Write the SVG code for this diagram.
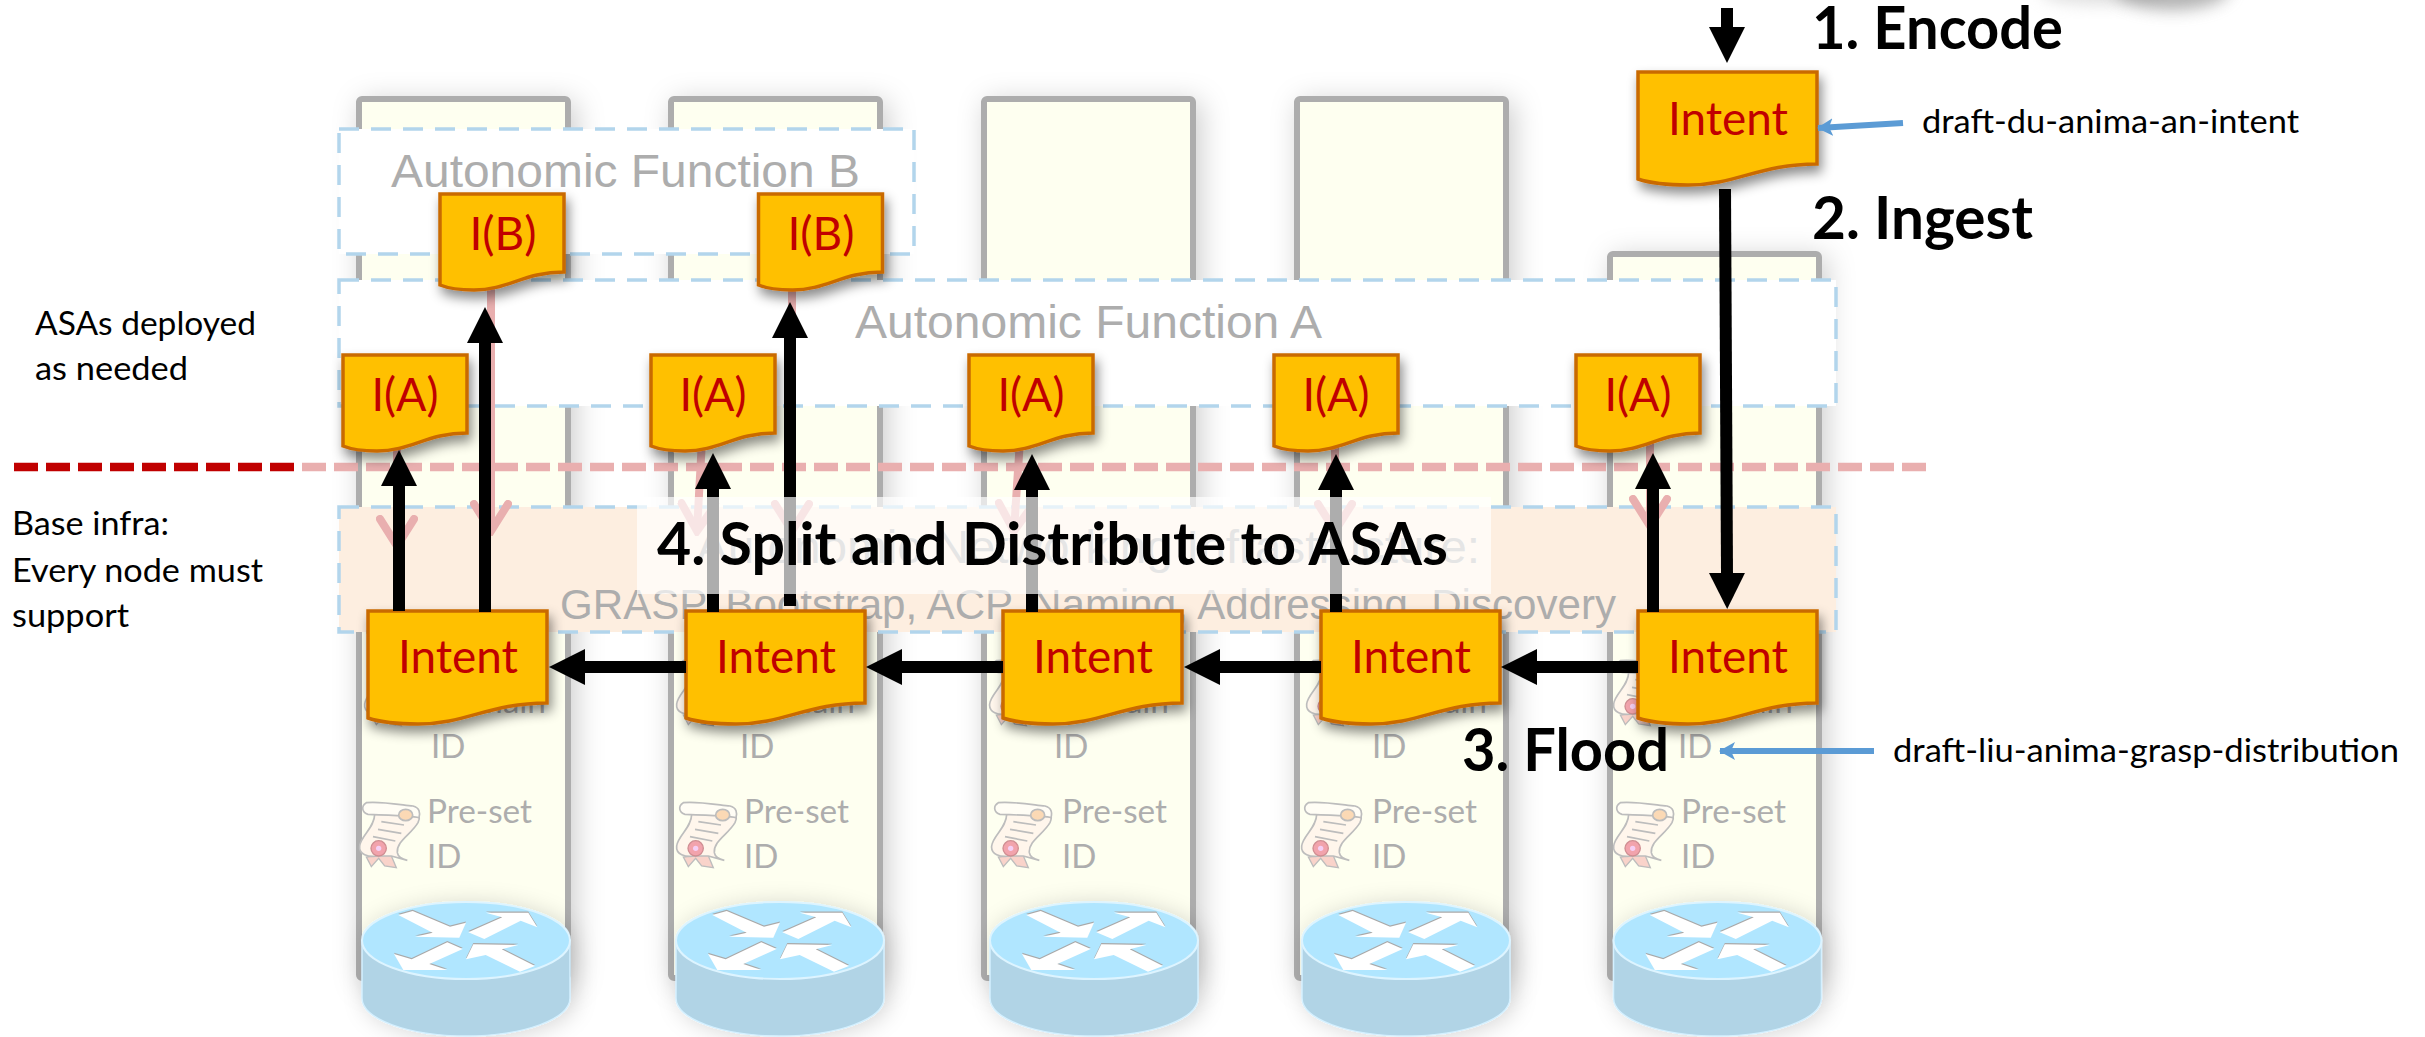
<svg xmlns="http://www.w3.org/2000/svg" xmlns:xlink="http://www.w3.org/1999/xlink" width="2425" height="1037" viewBox="0 0 2425 1037">
<style>
text{font-family:"Lato","Noto Sans",sans-serif}
.frame{fill:#FEFFF0;stroke:#ADADAD;stroke-width:6;filter:url(#fs)}
.box{stroke:#B2D5EC;stroke-width:3.5;stroke-dasharray:20 12}
.white{fill:#fff}
.peach{fill:#FDEEE0}
.ar{font-family:"Liberation Sans",Arial,sans-serif;fill:#ADADAD}
.fade{fill:#ADADAD;font-size:33px}
.doc{fill:#FFC000;stroke:#C96A00;stroke-width:3.5;filter:url(#ds)}
.dt{fill:#C00000;font-size:47px;text-anchor:middle}
.blk{fill:#000;font-size:32px}
.hd{fill:#000;font-size:60px;font-weight:700}
.bl{stroke:#000;stroke-width:12;fill:none;marker-end:url(#ah)}
.pk{stroke:#E9AFAF;stroke-width:8;fill:none;marker-end:url(#ph)}
.cyl{fill:#B1D4E6;stroke:#D4F0FF;stroke-width:1.5}
.top{fill:#B0E6FF;stroke:#DDF4FF;stroke-width:2}
</style>
<defs>
<filter id="fs" x="-30%" y="-10%" width="170%" height="125%"><feDropShadow dx="5" dy="5" stdDeviation="14" flood-color="#000" flood-opacity=".2"/></filter>
<filter id="ds" x="-30%" y="-30%" width="170%" height="170%"><feDropShadow dx="3" dy="7" stdDeviation="6" flood-color="#000" flood-opacity=".45"/></filter>
<filter id="rs" x="-30%" y="-30%" width="170%" height="170%"><feDropShadow dx="4" dy="2" stdDeviation="11" flood-color="#000" flood-opacity=".16"/></filter>
<filter id="bl" x="-30%" y="-60%" width="160%" height="220%"><feGaussianBlur stdDeviation="8"/></filter>
<marker id="ah" viewBox="0 0 36 36" refX="1" refY="18" markerWidth="36" markerHeight="36" markerUnits="userSpaceOnUse" orient="auto"><path d="M0,0 L36,18 L0,36 Z" fill="#000"/></marker>
<marker id="ph" viewBox="0 0 36 42" refX="31" refY="21" markerWidth="36" markerHeight="42" markerUnits="userSpaceOnUse" orient="auto"><path d="M4,4 L31,21 L4,38" fill="none" stroke="#E9AFAF" stroke-width="8" stroke-linecap="round"/></marker>
<marker id="bh" viewBox="0 0 16 18" refX="15" refY="9" markerWidth="16" markerHeight="18" markerUnits="userSpaceOnUse" orient="auto"><path d="M0,0 L16,9 L0,18 L4,9 Z" fill="#5B9BD5"/></marker>
<path id="d-big" d="M0,0 H179 V92 C122,92 98,113 50,113 C30,113 15,112 0,107 Z"/>
<path id="d-sm" d="M0,0 H124 V78 C84,78 68,96 34,96 C20,96 10,95 0,91 Z"/>
<g id="scroll" transform="scale(.3333)">
<path d="M50,165 L25,168 L40,197 L62,172 L80,195 L115,200 L98,160 Z" fill="#F9D3CA" stroke="#BDBDBD" stroke-width="4"/>
<path d="M50,40 L165,25 C185,30 187,50 180,65 C160,100 115,120 118,155 C120,168 135,175 148,178 L100,165 L60,165 C30,170 2,160 5,135 C8,105 50,80 50,40 Z" fill="#FFF6EC" stroke="#BDBDBD" stroke-width="5"/>
<path d="M30,40 C12,35 8,15 25,5 C60,0 120,10 165,15 C185,20 187,35 183,50 C170,45 90,42 30,40 Z" fill="#FFFDF5" stroke="#BDBDBD" stroke-width="5"/>
<ellipse cx="143" cy="42" rx="21" ry="17" fill="#FBD9B5" stroke="#BDBDBD" stroke-width="5"/>
<path d="M70,62 L138,72 M60,85 L130,97 M45,107 L112,120" stroke="#BDBDBD" stroke-width="5" fill="none"/>
<circle cx="62" cy="142" r="23" fill="#F2A3AC" stroke="#CF8E92" stroke-width="4"/>
<circle cx="62" cy="142" r="8" fill="#F5CFF4"/>
</g>
<g id="router">
<path class="cyl" d="M362,940 V998 C362,1019 408,1036 466,1036 C524,1036 570,1019 570,998 V940 Z"/>
<ellipse class="top" cx="466" cy="940.5" rx="104" ry="38.5"/>
<path fill="#A9A9A9" transform="translate(0,-1.2)" d="M398.3,915 L412.7,911 L450,926.7 L466,922.7 L459.3,937.7 L415,936.7 L432.7,932.7 Z M468.3,932.3 L502.3,917.3 L485.7,912.7 L528.3,912.7 L537.3,927.3 L520.7,920.7 L484.3,939 Z M462.7,949 L429.3,964 L447.3,970 L403.3,970 L394,954 L411.7,959.3 L447.3,942.3 Z M466,959.3 L473.3,944.3 L518.3,945 L501.7,949.3 L535,966 L520,971.7 L485.7,955 Z"/>
<path fill="#fff" d="M398.3,915 L412.7,911 L450,926.7 L466,922.7 L459.3,937.7 L415,936.7 L432.7,932.7 Z M468.3,932.3 L502.3,917.3 L485.7,912.7 L528.3,912.7 L537.3,927.3 L520.7,920.7 L484.3,939 Z M462.7,949 L429.3,964 L447.3,970 L403.3,970 L394,954 L411.7,959.3 L447.3,942.3 Z M466,959.3 L473.3,944.3 L518.3,945 L501.7,949.3 L535,966 L520,971.7 L485.7,955 Z"/>
</g>
</defs>
<rect width="2425" height="1037" fill="#fff"/>
<ellipse cx="2100" cy="-8" rx="60" ry="12" fill="#bbb" opacity=".5" filter="url(#bl)"/>
<ellipse cx="2172" cy="-12" rx="58" ry="22" fill="#888" opacity=".65" filter="url(#bl)"/>

<g id="column-1">
<rect class="frame" x="359" y="99" width="209" height="879" rx="3"/>
<text class="fade" x="431" y="713" textLength="115" lengthAdjust="spacingAndGlyphs">Domain</text><text class="fade" x="431" y="758">ID</text>
<text class="fade" x="427" y="823" textLength="105" lengthAdjust="spacingAndGlyphs">Pre-set</text><text class="fade" x="427" y="868">ID</text>
<use href="#scroll" transform="translate(363,659)"/><use href="#scroll" transform="translate(358,801)"/>
<use href="#router" style="filter:url(#rs)"/>
</g>
<g id="column-2">
<rect class="frame" x="671" y="99" width="209" height="879" rx="3"/>
<text class="fade" x="740" y="713" textLength="115" lengthAdjust="spacingAndGlyphs">Domain</text><text class="fade" x="740" y="758">ID</text>
<text class="fade" x="744" y="823" textLength="105" lengthAdjust="spacingAndGlyphs">Pre-set</text><text class="fade" x="744" y="868">ID</text>
<use href="#scroll" transform="translate(675,659)"/><use href="#scroll" transform="translate(675,801)"/>
<use href="#router" transform="translate(314,0)" style="filter:url(#rs)"/>
</g>
<g id="column-3">
<rect class="frame" x="984" y="99" width="209" height="879" rx="3"/>
<text class="fade" x="1054" y="713" textLength="115" lengthAdjust="spacingAndGlyphs">Domain</text><text class="fade" x="1054" y="758">ID</text>
<text class="fade" x="1062" y="823" textLength="105" lengthAdjust="spacingAndGlyphs">Pre-set</text><text class="fade" x="1062" y="868">ID</text>
<use href="#scroll" transform="translate(988,659)"/><use href="#scroll" transform="translate(990,801)"/>
<use href="#router" transform="translate(628,0)" style="filter:url(#rs)"/>
</g>
<g id="column-4">
<rect class="frame" x="1297" y="99" width="209" height="879" rx="3"/>
<text class="fade" x="1372" y="713" textLength="115" lengthAdjust="spacingAndGlyphs">Domain</text><text class="fade" x="1372" y="758">ID</text>
<text class="fade" x="1372" y="823" textLength="105" lengthAdjust="spacingAndGlyphs">Pre-set</text><text class="fade" x="1372" y="868">ID</text>
<use href="#scroll" transform="translate(1305,659)"/><use href="#scroll" transform="translate(1300,801)"/>
<use href="#router" transform="translate(940,0)" style="filter:url(#rs)"/>
</g>
<g id="column-5">
<rect class="frame" x="1610" y="254" width="209" height="724" rx="3"/>
<text class="fade" x="1678" y="713" textLength="115" lengthAdjust="spacingAndGlyphs">Domain</text><text class="fade" x="1678" y="758">ID</text>
<text class="fade" x="1681" y="823" textLength="105" lengthAdjust="spacingAndGlyphs">Pre-set</text><text class="fade" x="1681" y="868">ID</text>
<use href="#scroll" transform="translate(1612,659)"/><use href="#scroll" transform="translate(1612,801)"/>
<use href="#router" transform="translate(1251.5,0)" style="filter:url(#rs)"/>
</g>

<g id="function-b"><rect class="box white" x="339" y="129" width="575" height="125"/><text class="ar" x="391" y="187" font-size="46" textLength="469" lengthAdjust="spacingAndGlyphs">Autonomic Function B</text></g>
<g id="function-a"><rect class="box white" x="339" y="280" width="1497" height="126"/><text class="ar" x="855" y="338" font-size="46" textLength="467" lengthAdjust="spacingAndGlyphs">Autonomic Function A</text></g>
<g id="infrastructure"><rect class="box peach" x="339" y="507" width="1497" height="125"/>
<text class="ar" x="696" y="563" font-size="46" textLength="784" lengthAdjust="spacingAndGlyphs">Autonomic Networking Infrastructure:</text>
<text class="ar" x="560" y="619" font-size="42" textLength="1056" lengthAdjust="spacingAndGlyphs">GRASP, Bootstrap, ACP, Naming, Addressing, Discovery</text></g>

<g id="boundary">
<path d="M302,467 H1927" stroke="#E9AFAF" stroke-width="8.5" stroke-dasharray="24 8" fill="none"/>
<path d="M14,467 H294" stroke="#C00000" stroke-width="8.5" stroke-dasharray="24 8" fill="none"/>
</g>

<g id="faded-connectors">
<line class="pk" x1="397" y1="440" x2="397" y2="546"/>
<line class="pk" x1="491" y1="285" x2="491" y2="531"/>
<line class="pk" x1="702" y1="440" x2="697" y2="531"/>
<line class="pk" x1="792" y1="285" x2="792" y2="531"/>
<line class="pk" x1="1020" y1="440" x2="1014" y2="531"/>
<line class="pk" x1="1335" y1="440" x2="1335" y2="531"/>
<line class="pk" x1="1650" y1="440" x2="1650" y2="526"/>
</g>

<g id="intent-top"><use class="doc" href="#d-big" transform="translate(1638,72)"/><text class="dt" x="1728" y="135" textLength="120" lengthAdjust="spacingAndGlyphs">Intent</text></g>
<g id="ib-1"><use class="doc" href="#d-sm" transform="translate(440,194)"/><text class="dt" x="503" y="250" textLength="67" lengthAdjust="spacingAndGlyphs">I(B)</text></g>
<g id="ib-2"><use class="doc" href="#d-sm" transform="translate(758.5,194)"/><text class="dt" x="821" y="250" textLength="67" lengthAdjust="spacingAndGlyphs">I(B)</text></g>
<g id="ia-1"><use class="doc" href="#d-sm" transform="translate(343,355)"/><text class="dt" x="405" y="411" textLength="67" lengthAdjust="spacingAndGlyphs">I(A)</text></g>
<g id="ia-2"><use class="doc" href="#d-sm" transform="translate(651,355)"/><text class="dt" x="713" y="411" textLength="67" lengthAdjust="spacingAndGlyphs">I(A)</text></g>
<g id="ia-3"><use class="doc" href="#d-sm" transform="translate(969,355)"/><text class="dt" x="1031" y="411" textLength="67" lengthAdjust="spacingAndGlyphs">I(A)</text></g>
<g id="ia-4"><use class="doc" href="#d-sm" transform="translate(1274,355)"/><text class="dt" x="1336" y="411" textLength="67" lengthAdjust="spacingAndGlyphs">I(A)</text></g>
<g id="ia-5"><use class="doc" href="#d-sm" transform="translate(1576,355)"/><text class="dt" x="1638" y="411" textLength="67" lengthAdjust="spacingAndGlyphs">I(A)</text></g>
<g id="intent-1"><use class="doc" href="#d-big" transform="translate(368,611)"/><text class="dt" x="458" y="673" textLength="120" lengthAdjust="spacingAndGlyphs">Intent</text></g>
<g id="intent-2"><use class="doc" href="#d-big" transform="translate(686,611)"/><text class="dt" x="776" y="673" textLength="120" lengthAdjust="spacingAndGlyphs">Intent</text></g>
<g id="intent-3"><use class="doc" href="#d-big" transform="translate(1003,611)"/><text class="dt" x="1093" y="673" textLength="120" lengthAdjust="spacingAndGlyphs">Intent</text></g>
<g id="intent-4"><use class="doc" href="#d-big" transform="translate(1321,611)"/><text class="dt" x="1411" y="673" textLength="120" lengthAdjust="spacingAndGlyphs">Intent</text></g>
<g id="intent-5"><use class="doc" href="#d-big" transform="translate(1638,611)"/><text class="dt" x="1728" y="673" textLength="120" lengthAdjust="spacingAndGlyphs">Intent</text></g>

<g id="connectors">
<line class="bl" x1="1727" y1="8" x2="1727" y2="28"/>
<line class="bl" x1="1725" y1="189" x2="1727" y2="574"/>
<line class="bl" x1="1638" y1="667" x2="1536" y2="667"/>
<line class="bl" x1="1321" y1="667" x2="1219" y2="667"/>
<line class="bl" x1="1003" y1="667" x2="901" y2="667"/>
<line class="bl" x1="686" y1="667" x2="584" y2="667"/>
<line class="bl" x1="399" y1="611" x2="399" y2="485"/>
<line class="bl" x1="485" y1="612" x2="485" y2="342"/>
<line class="bl" x1="713" y1="612" x2="713" y2="488"/>
<line class="bl" x1="790" y1="606" x2="790" y2="337"/>
<line class="bl" x1="1032" y1="612" x2="1032" y2="489"/>
<line class="bl" x1="1336" y1="612" x2="1336" y2="489"/>
<line class="bl" x1="1653" y1="612" x2="1653" y2="488"/>
<line x1="1903" y1="123" x2="1818" y2="128" stroke="#5B9BD5" stroke-width="6" marker-end="url(#bh)"/>
<line x1="1874" y1="751" x2="1720" y2="751" stroke="#5B9BD5" stroke-width="6" marker-end="url(#bh)"/>
</g>

<rect id="label-backdrop" x="637" y="497" width="854" height="97" fill="#fff" opacity=".68"/>

<g id="labels">
<text class="hd" x="1812" y="49" textLength="251" lengthAdjust="spacingAndGlyphs">1. Encode</text>
<text class="hd" x="1812" y="239" textLength="221" lengthAdjust="spacingAndGlyphs">2. Ingest</text>
<text class="hd" x="1462" y="771" textLength="207" lengthAdjust="spacingAndGlyphs">3. Flood</text>
<text class="hd" x="657" y="565" textLength="791" lengthAdjust="spacingAndGlyphs">4. Split and Distribute to ASAs</text>
<text class="blk" x="1922" y="133" textLength="377" lengthAdjust="spacingAndGlyphs">draft-du-anima-an-intent</text>
<text class="blk" x="1893" y="762" textLength="506" lengthAdjust="spacingAndGlyphs">draft-liu-anima-grasp-distribution</text>
<text class="blk" x="35" y="335" textLength="221" lengthAdjust="spacingAndGlyphs">ASAs deployed</text>
<text class="blk" x="35" y="380" textLength="153" lengthAdjust="spacingAndGlyphs">as needed</text>
<text class="blk" x="12" y="535" textLength="157" lengthAdjust="spacingAndGlyphs">Base infra:</text>
<text class="blk" x="12" y="582" textLength="251" lengthAdjust="spacingAndGlyphs">Every node must</text>
<text class="blk" x="12" y="627" textLength="117" lengthAdjust="spacingAndGlyphs">support</text>
</g>
</svg>
